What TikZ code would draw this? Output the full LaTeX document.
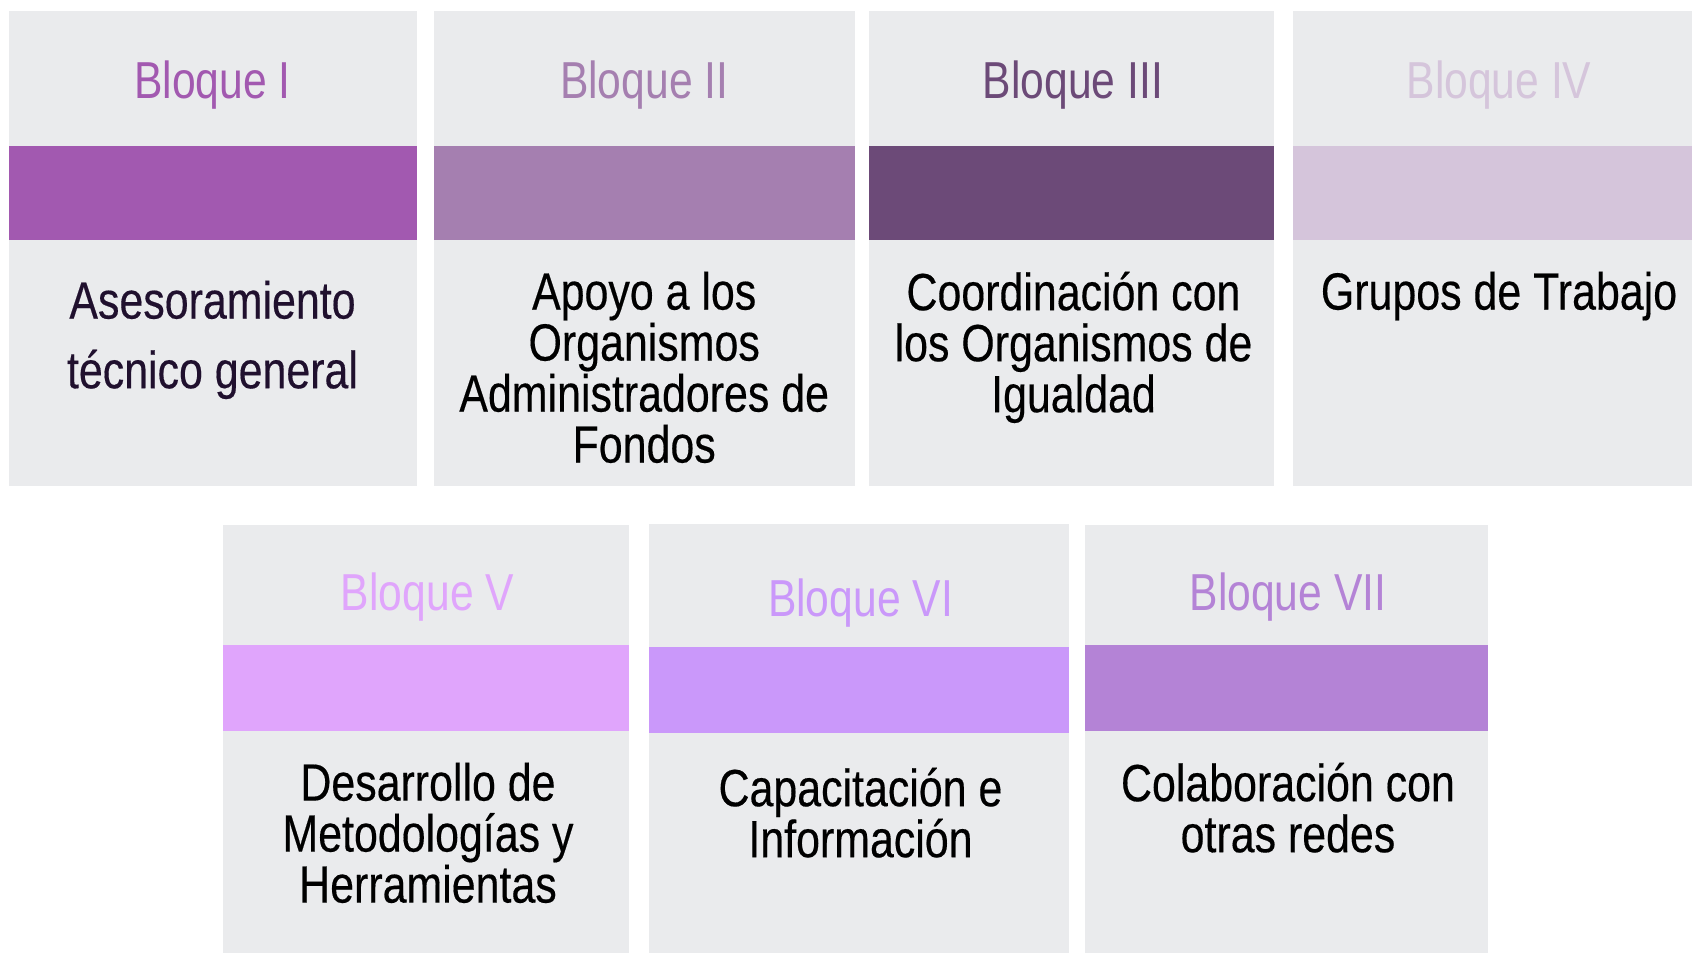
\documentclass[tikz,border=0pt]{standalone}
\usepackage{fontspec}
\setmainfont{Liberation Sans}[FakeStretch=0.82]
\newfontfamily\cuerpo{Liberation Sans}[FakeStretch=0.82, FakeBold=0.3]
\usepackage{tikz}
\usetikzlibrary{positioning}

\definecolor{fondo}{HTML}{EAEBED}
\definecolor{bloqueI}{HTML}{A259B0}
\definecolor{bloqueII}{HTML}{A57FB0}
\definecolor{bloqueIII}{HTML}{6C4A78}
\definecolor{bloqueIV}{HTML}{D5C5DB}
\definecolor{bloqueV}{HTML}{E0A5FC}
\definecolor{bloqueVI}{HTML}{CA98FA}
\definecolor{bloqueVII}{HTML}{B483D6}
\definecolor{tinta}{HTML}{20102E}

\begin{document}
\begin{tikzpicture}[x=0.3pt, y=-0.3pt,
  titulo/.style={anchor=base, inner sep=0pt, font=\fontsize{15.6}{16}\selectfont},
  texto/.style={anchor=north, inner sep=0pt, align=center, text=black, font=\cuerpo\fontsize{15.7}{15.3}\selectfont}]
\useasboundingbox (0,0) rectangle (1692,953);

% fila superior
\fill [fondo] (8.6,10.8) rectangle (416.5,485.6);
\fill [bloqueI] (8.6,145.7) rectangle (416.5,239.6);
\node (tit1) [titulo, text=bloqueI] at (212.5,99) {Bloque I};
\node (txt1) [texto, text=tinta, font=\cuerpo\fontsize{15.7}{20.9}\selectfont] at (212.5,280) {Asesoramiento\\técnico general};

\fill [fondo] (433.8,10.8) rectangle (854.6,485.6);
\fill [bloqueII] (433.8,145.7) rectangle (854.6,239.6);
\node (tit2) [titulo, text=bloqueII] at (644.2,99) {Bloque II};
\node (txt2) [texto] at (644.2,271) {Apoyo a los\\Organismos\\Administradores de\\Fondos};

\fill [fondo] (868.7,10.8) rectangle (1274.4,485.6);
\fill [bloqueIII] (868.7,145.7) rectangle (1274.4,239.6);
\node (tit3) [titulo, text=bloqueIII] at (1073,99) {Bloque III};
\node (txt3) [texto] at (1073.5,271) {Coordinación con\\los Organismos de\\Igualdad};

\fill [fondo] (1292.8,10.8) rectangle (1692,485.6);
\fill [bloqueIV] (1292.8,145.7) rectangle (1692,239.6);
\node (tit4) [titulo, text=bloqueIV] at (1499,99) {Bloque IV};
\node (txt4) [texto] at (1499,271) {Grupos de Trabajo};

% fila inferior
\fill [fondo] (223.4,525.5) rectangle (629.1,953);
\fill [bloqueV] (223.4,645.3) rectangle (629.1,730.6);
\node (tit5) [titulo, text=bloqueV] at (427.5,611) {Bloque V};
\node (txt5) [texto] at (428,762) {Desarrollo de\\Metodologías y\\Herramientas};

\fill [fondo] (648.5,524.5) rectangle (1069.4,953);
\fill [bloqueVI] (648.5,647.5) rectangle (1069.4,732.7);
\node (tit6) [titulo, text=bloqueVI] at (860.5,617) {Bloque VI};
\node (txt6) [texto] at (860.5,767) {Capacitación e\\Información};

\fill [fondo] (1084.5,525.5) rectangle (1488.1,953);
\fill [bloqueVII] (1084.5,645.3) rectangle (1488.1,730.6);
\node (tit7) [titulo, text=bloqueVII] at (1288,611) {Bloque VII};
\node (txt7) [texto] at (1288,762) {Colaboración con\\otras redes};
\end{tikzpicture}
\end{document}
